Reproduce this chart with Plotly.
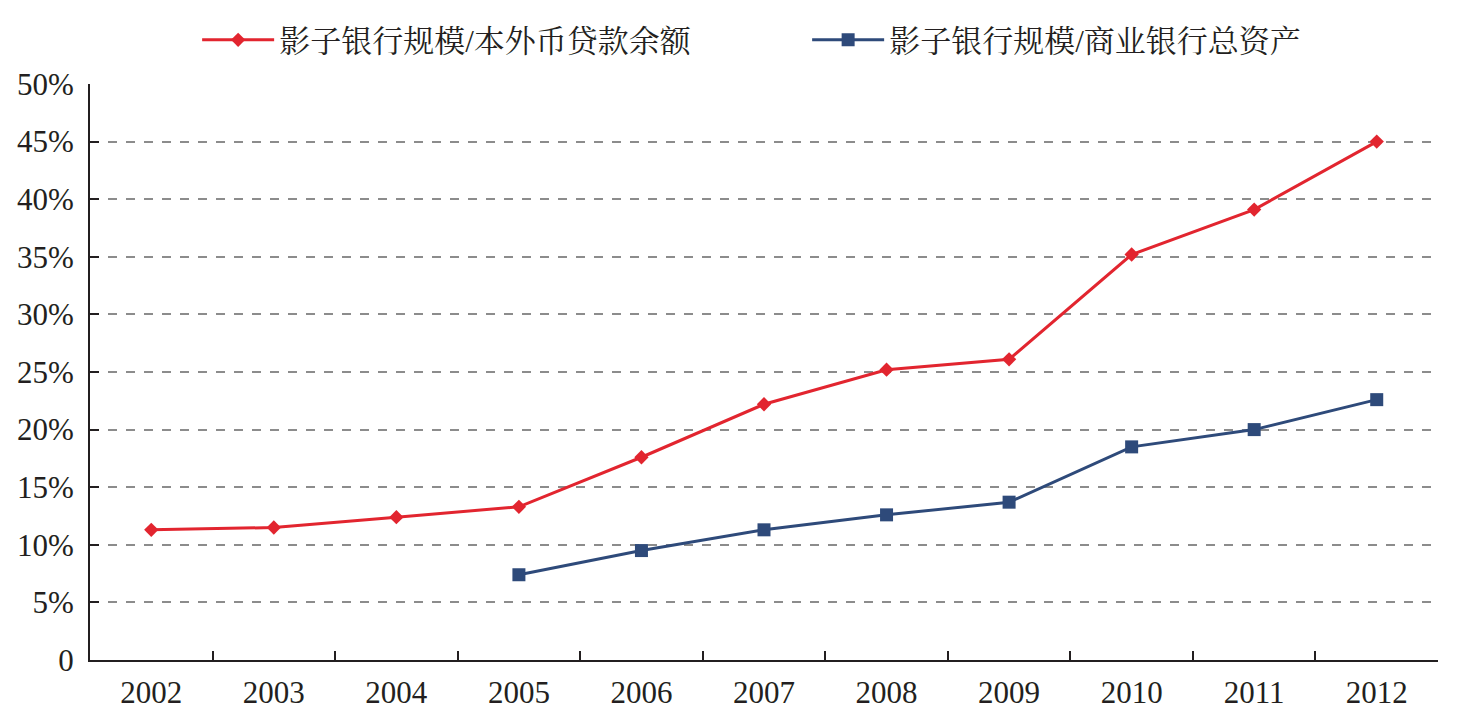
import plotly.graph_objects as go

years = ["2002", "2003", "2004", "2005", "2006", "2007", "2008", "2009", "2010", "2011", "2012"]
loan_ratio = [11.3, 11.5, 12.4, 13.3, 17.6, 22.2, 25.2, 26.1, 35.2, 39.1, 45.0]
asset_years = ["2005", "2006", "2007", "2008", "2009", "2010", "2011", "2012"]
asset_ratio = [7.4, 9.5, 11.3, 12.6, 13.7, 18.5, 20.0, 22.6]
y_ticks = [0, 5, 10, 15, 20, 25, 30, 35, 40, 45, 50]
y_ticktext = ["0", "5%", "10%", "15%", "20%", "25%", "30%", "35%", "40%", "45%", "50%"]
name_loan = "影子银行规模/本外币贷款余额"
name_asset = "影子银行规模/商业银行总资产"

FONT = "Liberation Serif, Noto Serif CJK SC, Noto Sans CJK SC, serif"

fig = go.Figure()
fig.add_trace(go.Scatter(
    x=years, y=loan_ratio, name=name_loan, mode="lines+markers",
    line=dict(color="#E2252F", width=3),
    marker=dict(symbol="diamond", size=11, color="#E2252F"),
))
fig.add_trace(go.Scatter(
    x=asset_years, y=asset_ratio, name=name_asset, mode="lines+markers",
    line=dict(color="#2E4A7A", width=3),
    marker=dict(symbol="square", size=13, color="#2E4A7A"),
))

fig.update_layout(
    width=1475, height=724,
    margin=dict(l=90, r=37, t=84, b=64, autoexpand=False),
    paper_bgcolor="white", plot_bgcolor="white",
    font=dict(family=FONT, size=31, color="#231F20"),
    legend=dict(orientation="h", x=0.532, xanchor="center", y=1.076, yanchor="middle",
                font=dict(size=31, family=FONT), itemwidth=72, entrywidth=523,
                traceorder="normal", bgcolor="rgba(0,0,0,0)"),
    xaxis=dict(
        type="category", categoryorder="array", categoryarray=years,
        range=[-0.5, 10.5], tickson="boundaries",
        ticks="inside", ticklen=9, tickwidth=2, tickcolor="#231F20",
        showline=True, linecolor="#231F20", linewidth=2,
        showgrid=False, zeroline=False,
        tickfont=dict(size=31, family=FONT), ticklabelstandoff=4,
    ),
    yaxis=dict(
        range=[0, 50], tickvals=y_ticks, ticktext=y_ticktext,
        ticks="inside", ticklen=9, tickwidth=2, tickcolor="#231F20",
        showline=True, linecolor="#231F20", linewidth=2,
        showgrid=True, gridcolor="#8C8C8C", griddash="dash", gridwidth=1.5,
        zeroline=False, tickfont=dict(size=31, family=FONT),
        ticklabelstandoff=8,
    ),
)

fig.write_html("out.html")
